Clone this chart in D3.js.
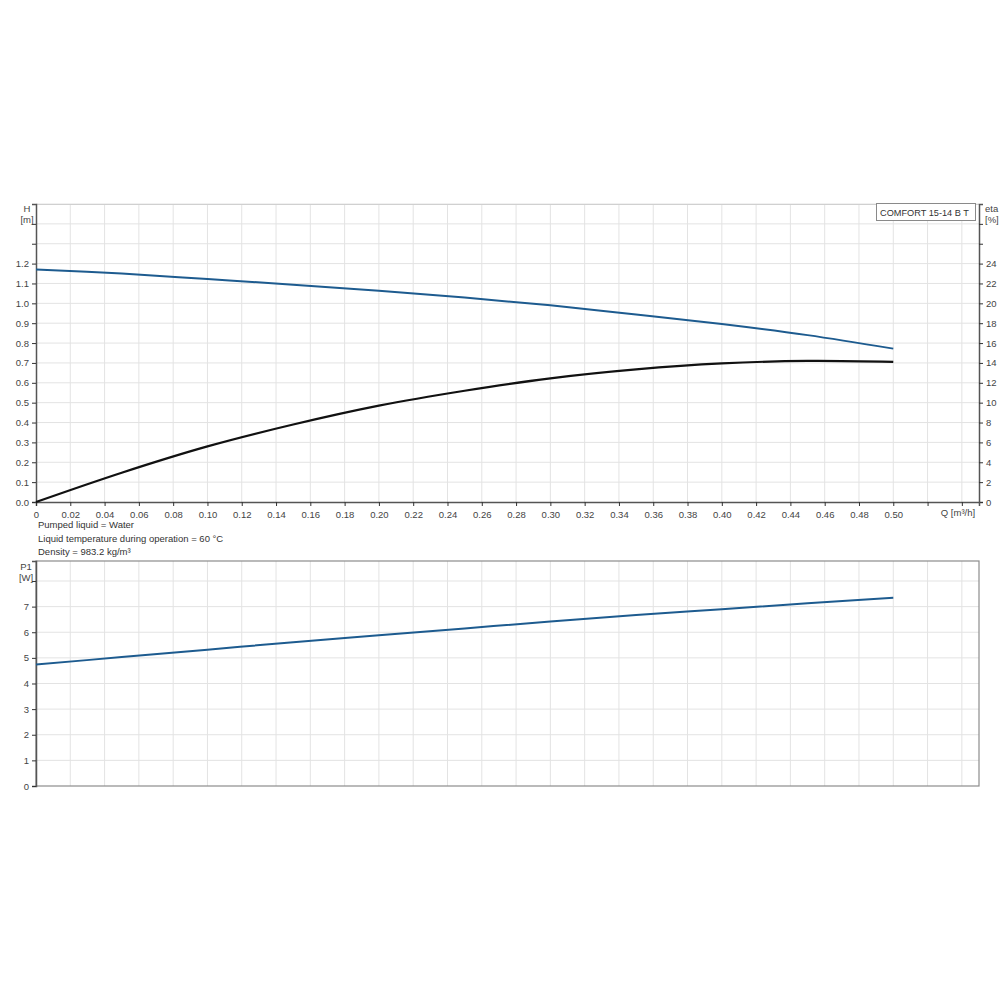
<!DOCTYPE html>
<html><head><meta charset="utf-8">
<script src="https://cdn.jsdelivr.net/npm/d3@7"></script>
<style>body{margin:0;background:#fff}svg{display:block;font-family:"Liberation Sans",Arial,sans-serif}</style>
</head><body>
<svg id="c" width="1000" height="1000"></svg>
<script>
// ---- data ----
const flowQ = [0, 0.05, 0.10, 0.15, 0.20, 0.25, 0.30, 0.35, 0.40, 0.45, 0.50];
const headH = [1.170, 1.150, 1.122, 1.094, 1.063, 1.029, 0.990, 0.944, 0.896, 0.840, 0.772];
const etaPct = [0, 2.95, 5.6, 7.8, 9.7, 11.2, 12.45, 13.35, 13.95, 14.2, 14.1];
const powerP1 = [4.74, 5.03, 5.32, 5.61, 5.88, 6.15, 6.42, 6.67, 6.90, 7.13, 7.35];
const xTicks = [0,0.02,0.04,0.06,0.08,0.10,0.12,0.14,0.16,0.18,0.20,0.22,0.24,0.26,0.28,0.30,0.32,0.34,0.36,0.38,0.40,0.42,0.44,0.46,0.48,0.50,0.52,0.54];
const xLabelMax = 0.50;
const hTicks = [0,0.1,0.2,0.3,0.4,0.5,0.6,0.7,0.8,0.9,1.0,1.1,1.2,1.3,1.4,1.5];
const hLabelMax = 1.2;
const etaTicks = [0,2,4,6,8,10,12,14,16,18,20,22,24,26,28];
const etaLabelMax = 24;
const pTicks = [0,1,2,3,4,5,6,7,8];
const pLabelMax = 7;
const legendText = "COMFORT 15-14 B T";
const notes = ["Pumped liquid = Water", "Liquid temperature during operation = 60 °C", "Density = 983.2 kg/m³"];

// ---- layout ----
const svg = d3.select("#c");
const L = 36, R = 979;
const x = d3.scaleLinear().domain([0, 0.55]).range([L, R]);
const yH = d3.scaleLinear().domain([0, 1.5]).range([502, 204]);
const yE = d3.scaleLinear().domain([0, 30]).range([502, 204]);
const yP = d3.scaleLinear().domain([0, 8.78]).range([786, 561]);

const gridC = "#e3e3e3", axisC = "#555", textC = "#444";
const blue = "#1d5b8f";

function grid(yScale, yt, top, bot) {
  const g = svg.append("g");
  g.selectAll(".v").data(xTicks.filter(d => d > 0)).join("line")
    .attr("x1", d => x(d)).attr("x2", d => x(d)).attr("y1", top).attr("y2", bot)
    .attr("stroke", gridC).attr("stroke-width", 1);
  g.selectAll(".h").data(yt.filter(d => d > 0)).join("line")
    .attr("x1", L).attr("x2", R).attr("y1", d => yScale(d)).attr("y2", d => yScale(d))
    .attr("stroke", gridC).attr("stroke-width", 1);
}

// ---- top chart ----
grid(yH, hTicks, 204, 502);
svg.append("line").attr("x1", L).attr("x2", R).attr("y1", 204.5).attr("y2", 204.5).attr("stroke", "#d0d0d0");

const axL = svg.append("g").attr("transform", `translate(${L},0)`)
  .call(d3.axisLeft(yH).tickValues(hTicks.filter(d => d < 1.5)).tickSize(4)
    .tickFormat(d => d <= hLabelMax + 1e-9 ? d3.format(".1f")(d) : ""));
const axR = svg.append("g").attr("transform", `translate(${R},0)`)
  .call(d3.axisRight(yE).tickValues(etaTicks).tickSize(4)
    .tickFormat(d => d <= etaLabelMax ? d : ""));
const axB = svg.append("g").attr("transform", `translate(0,502)`)
  .call(d3.axisBottom(x).tickValues(xTicks).tickSize(4)
    .tickFormat(d => d === 0 ? "0" : (d <= xLabelMax + 1e-9 ? d3.format(".2f")(d) : "")));
[axL, axR, axB].forEach(a => {
  a.select(".domain").attr("stroke", axisC).attr("stroke-width", 1.5);
  a.selectAll(".tick line").attr("stroke", "#333");
  a.selectAll("text").attr("fill", textC).attr("font-size", 9.5).attr("font-family", "Liberation Sans, Arial, sans-serif");
});
axB.selectAll("text").attr("dy", "0.9em");

svg.append("text").attr("x", 27).attr("y", 212).attr("text-anchor", "middle").attr("font-size", 9.5).attr("fill", textC).text("H");
svg.append("text").attr("x", 27).attr("y", 223).attr("text-anchor", "middle").attr("font-size", 9.5).attr("fill", textC).text("[m]");
svg.append("text").attr("x", 985).attr("y", 212).attr("font-size", 9.5).attr("fill", textC).text("eta");
svg.append("text").attr("x", 985).attr("y", 223).attr("font-size", 9.5).attr("fill", textC).text("[%]");
svg.append("text").attr("x", 958).attr("y", 516).attr("text-anchor", "middle").attr("font-size", 9.5).attr("fill", textC).text("Q [m³/h]");

// legend box
svg.append("rect").attr("x", 876.5).attr("y", 203.5).attr("width", 99).attr("height", 17)
  .attr("fill", "#fff").attr("stroke", "#8a8a8a");
svg.append("text").attr("x", 880).attr("y", 216).attr("font-size", 9.2).attr("fill", "#333").text(legendText);

// curves
const hData = flowQ.map((q, i) => [q, headH[i]]);
const eData = flowQ.map((q, i) => [q, etaPct[i]]);
const pData = flowQ.map((q, i) => [q, powerP1[i]]);
const smooth = d3.curveCatmullRom.alpha(0.5);
svg.append("path").datum(hData).attr("fill", "none").attr("stroke", blue).attr("stroke-width", 2)
  .attr("d", d3.line().x(d => x(d[0])).y(d => yH(d[1])).curve(smooth));
svg.append("path").datum(eData).attr("fill", "none").attr("stroke", "#111").attr("stroke-width", 2.2)
  .attr("d", d3.line().x(d => x(d[0])).y(d => yE(d[1])).curve(smooth));

// notes
notes.forEach((t, i) => svg.append("text").attr("x", 38).attr("y", 528 + i * 13.5)
  .attr("font-size", 9.5).attr("fill", "#333").text(t));

// ---- bottom chart ----
grid(yP, pTicks, 561, 786);
svg.append("rect").attr("x", L).attr("y", 561).attr("width", R - L).attr("height", 225)
  .attr("fill", "none").attr("stroke", "#8c8c8c").attr("stroke-width", 1.2);
const axP = svg.append("g").attr("transform", `translate(${L},0)`)
  .call(d3.axisLeft(yP).tickValues(pTicks).tickSize(4)
    .tickFormat(d => d <= pLabelMax ? d : ""));
axP.select(".domain").attr("stroke", axisC).attr("stroke-width", 1.5);
axP.selectAll(".tick line").attr("stroke", "#333");
axP.selectAll("text").attr("fill", textC).attr("font-size", 9.5).attr("font-family", "Liberation Sans, Arial, sans-serif");
svg.append("text").attr("x", 26).attr("y", 570).attr("text-anchor", "middle").attr("font-size", 9.5).attr("fill", textC).text("P1");
svg.append("text").attr("x", 26).attr("y", 581).attr("text-anchor", "middle").attr("font-size", 9.5).attr("fill", textC).text("[W]");
svg.append("path").datum(pData).attr("fill", "none").attr("stroke", blue).attr("stroke-width", 2)
  .attr("d", d3.line().x(d => x(d[0])).y(d => yP(d[1])).curve(smooth));
</script>
</body></html>
